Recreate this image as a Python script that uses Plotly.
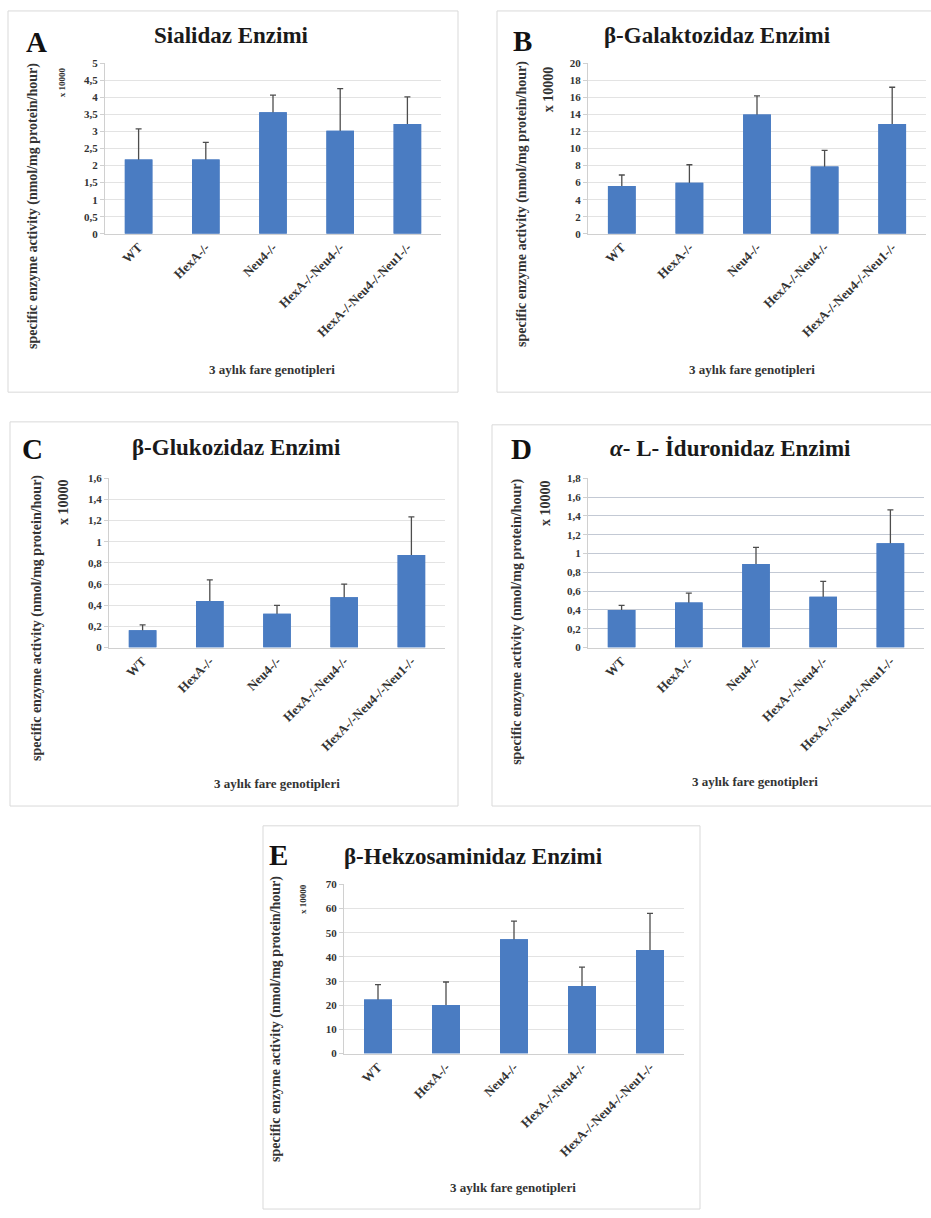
import plotly.graph_objects as go

# Genotype groups (3-month-old mice)
genotypes = ["WT", "HexA-/-", "Neu4-/-", "HexA-/-Neu4-/-", "HexA-/-Neu4-/-Neu1-/-"]

# Specific enzyme activity (nmol/mg protein/hour), mean and upper error
sialidase_mean = [2.18, 2.18, 3.57, 3.02, 3.22]
sialidase_err = [0.90, 0.50, 0.50, 1.24, 0.80]

galactosidase_mean = [5.6, 6.0, 14.0, 7.9, 12.9]
galactosidase_err = [1.3, 2.1, 2.2, 1.9, 4.3]

glucosidase_mean = [0.165, 0.44, 0.32, 0.475, 0.875]
glucosidase_err = [0.05, 0.20, 0.08, 0.125, 0.36]

iduronidase_mean = [0.40, 0.48, 0.89, 0.54, 1.11]
iduronidase_err = [0.05, 0.10, 0.175, 0.165, 0.355]

hexosaminidase_mean = [22.4, 20.1, 47.3, 27.9, 42.8]
hexosaminidase_err = [6.1, 9.5, 7.5, 7.8, 15.2]

panel_letters = ["A", "B", "C", "D", "E"]
panel_titles = [
    "Sialidaz Enzimi",
    "β-Galaktozidaz Enzimi",
    "β-Glukozidaz Enzimi",
    "<i>α</i>- L- İduronidaz Enzimi",
    "β-Hekzosaminidaz Enzimi",
]
y_title = "specific enzyme activity (nmol/mg protein/hour)"
y_scale_label = "x 10000"
x_title = "3 aylık fare genotipleri"
y_max = [5, 20, 1.6, 1.8, 70]
y_step = [0.5, 2, 0.2, 0.2, 10]

means = [sialidase_mean, galactosidase_mean, glucosidase_mean, iduronidase_mean, hexosaminidase_mean]
errs = [sialidase_err, galactosidase_err, glucosidase_err, iduronidase_err, hexosaminidase_err]

W, H = 931, 1218
SERIF = "Liberation Serif"
BAR = "#4a7cc2"
TEXT = "#333333"


def fx(px):
    return px / W


def fy(py):
    return 1 - py / H


# Layout of each panel in pixels
panels = [
    dict(box=(8, 5, 458, 390), plot=(105, 58, 441, 230), letter=(36, 36), title=(231, 30),
         ytitle=(33, 202), yscale=(62, 77), yscale_size=9, xtitle=(272, 367), grid="#e3e3e3"),
    dict(box=(497, 5, 940, 390), plot=(588, 58, 926, 230), letter=(522, 35), title=(717, 30),
         ytitle=(522, 200), yscale=(548, 84), yscale_size=14, xtitle=(752, 367), grid="#e3e3e3"),
    dict(box=(10, 420, 458, 808), plot=(109, 477, 445, 648), letter=(32, 447), title=(236, 446),
         ytitle=(37, 618), yscale=(63, 501), yscale_size=14, xtitle=(277, 785), grid="#e3e3e3"),
    dict(box=(492, 423, 940, 808), plot=(588, 477, 924, 648), letter=(521, 447), title=(730, 447),
         ytitle=(517, 622), yscale=(545, 502), yscale_size=14, xtitle=(755, 783), grid="#c3c9d4"),
    dict(box=(263, 828, 700, 1215), plot=(344, 887, 684, 1058), letter=(278, 857), title=(473, 859),
         ytitle=(276, 1023), yscale=(303, 902), yscale_size=9, xtitle=(513, 1193), grid="#e3e3e3"),
]

fig = go.Figure()
shapes = []
annotations = []
layout_axes = {}

for i, p in enumerate(panels):
    n = "" if i == 0 else str(i + 1)
    # error bars (plus direction shows above the bar; the lower half is covered by the bar drawn next)
    fig.add_trace(go.Bar(
        x=genotypes, y=means[i],
        xaxis="x" + n, yaxis="y" + n,
        marker=dict(color=BAR, line=dict(width=0)),
        error_y=dict(type="data", array=errs[i], color="#4d4d4d", thickness=1.3, width=3),
        showlegend=False, hoverinfo="skip",
    ))
    fig.add_trace(go.Bar(
        x=genotypes, y=means[i],
        xaxis="x" + n, yaxis="y" + n,
        marker=dict(color=BAR, line=dict(width=0)),
        showlegend=False,
    ))
    x0, y0, x1, y1 = p["plot"]
    layout_axes["xaxis" + n] = dict(
        domain=[fx(x0), fx(x1)], anchor="y" + n,
        tickangle=-45, showgrid=False, showline=True, linecolor="#d0d0d0", linewidth=1,
        ticks="", tickfont=dict(family=SERIF, size=13, weight="bold", color=TEXT),
        fixedrange=True,
    )
    layout_axes["yaxis" + n] = dict(
        domain=[fy(y1), fy(y0)], anchor="x" + n,
        range=[0, y_max[i]], dtick=y_step[i], tick0=0,
        showgrid=True, gridcolor=p["grid"], gridwidth=1,
        showline=True, linecolor="#d0d0d0", linewidth=1,
        ticks="outside", ticklen=4, tickcolor="#d0d0d0",
        zeroline=False,
        tickfont=dict(family=SERIF, size=11, weight="bold", color=TEXT),
        fixedrange=True,
    )

    bx0, by0, bx1, by1 = p["box"]
    shapes.append(dict(type="rect", xref="paper", yref="paper",
                       x0=fx(bx0), x1=fx(bx1), y0=fy(by1), y1=fy(by0),
                       line=dict(color="#d9d9d9", width=1), fillcolor="rgba(0,0,0,0)", layer="below"))

    annotations.append(dict(text=panel_letters[i], x=fx(p["letter"][0]), y=fy(p["letter"][1]),
                            xref="paper", yref="paper", showarrow=False,
                            font=dict(family=SERIF, size=29, weight="bold", color="#111111"),
                            xanchor="center", yanchor="middle"))
    annotations.append(dict(text=panel_titles[i], x=fx(p["title"][0]), y=fy(p["title"][1]),
                            xref="paper", yref="paper", showarrow=False,
                            font=dict(family=SERIF, size=23, weight="bold", color="#1a1a1a"),
                            xanchor="center", yanchor="middle"))
    annotations.append(dict(text=y_title, x=fx(p["ytitle"][0]), y=fy(p["ytitle"][1]),
                            xref="paper", yref="paper", showarrow=False, textangle=-90,
                            font=dict(family=SERIF, size=14, weight="bold", color=TEXT),
                            xanchor="center", yanchor="middle"))
    annotations.append(dict(text=y_scale_label, x=fx(p["yscale"][0]), y=fy(p["yscale"][1]),
                            xref="paper", yref="paper", showarrow=False, textangle=-90,
                            font=dict(family=SERIF, size=p["yscale_size"], weight="bold", color=TEXT),
                            xanchor="center", yanchor="middle"))
    annotations.append(dict(text=x_title, x=fx(p["xtitle"][0]), y=fy(p["xtitle"][1]),
                            xref="paper", yref="paper", showarrow=False,
                            font=dict(family=SERIF, size=13, weight="bold", color=TEXT),
                            xanchor="center", yanchor="middle"))

fig.update_layout(
    width=W, height=H, autosize=False,
    margin=dict(l=0, r=0, t=0, b=0),
    paper_bgcolor="white", plot_bgcolor="white",
    separators=",.",
    barmode="overlay",
    bargap=0.59,
    shapes=shapes, annotations=annotations,
    **layout_axes,
)

fig.write_html("out.html")
